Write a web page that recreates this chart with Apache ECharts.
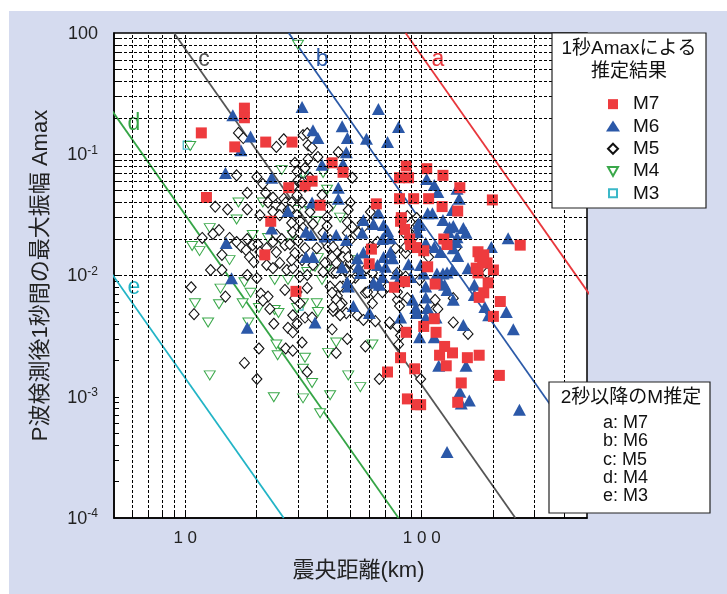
<!doctype html>
<html lang="ja">
<head>
<meta charset="UTF-8" />
<title>P波検測後1秒間の最大振幅</title>
<script src="https://fastly.jsdelivr.net/npm/echarts@6/dist/echarts.min.js"></script>
<style>
  * { margin: 0; padding: 0; }
  html, body { width: 100%; height: 100%; overflow: hidden; background: #fff; }
  #panel { position: absolute; left: 9px; top: 11px; right: 0; bottom: 0; background: #d5dbef; }
  #chart { position: absolute; left: 0; top: 0; width: 727px; height: 594px; }
</style>
</head>
<body>
<div id="panel"></div>
<div id="chart"></div>
<script>
// epicentral distance (km), Amax
const m7 = [[11.7,0.15],[17.8,0.24],[17.8,0.20],[16.2,0.115],[21.9,0.126],[28.3,0.126],[12.3,0.044],[23.0,0.028],[21.7,0.0148],[27.4,0.053],[32.1,0.055],[34.4,0.060],[37.2,0.038],[41.8,0.085],[46.5,0.071],[86,0.080],[105,0.076],[123,0.067],[80.6,0.064],[88,0.064],[145,0.053],[80.6,0.043],[92.5,0.043],[107,0.043],[122,0.037],[199,0.042],[64.3,0.039],[142,0.034],[82,0.030],[81.4,0.028],[84.7,0.024],[89,0.020],[89.8,0.018],[95,0.017],[102,0.016],[124,0.020],[128,0.018],[61.3,0.0165],[60,0.0125],[106,0.0118],[261,0.0178],[173,0.0157],[176,0.0143],[183,0.0148],[189,0.0127],[170,0.0115],[181,0.0129],[201,0.0111],[173,0.0105],[191,0.0087],[183,0.0072],[175,0.0066],[215,0.0061],[201,0.0046],[84.7,0.0089],[114,0.0085],[76.7,0.0080],[113,0.0044],[102,0.0038],[115,0.0034],[86,0.0034],[125,0.0026],[135,0.0023],[119,0.0022],[156,0.0021],[175,0.0022],[127,0.0018],[213,0.0015],[147,0.0013],[142,0.00090],[99,0.00086],[29.4,0.0074],[87,0.00096],[95,0.00086],[71.7,0.0016],[93.4,0.0017],[81.4,0.0021]];

const m6 = [[15.9,0.21],[18.9,0.14],[17.2,0.108],[14.8,0.070],[23.2,0.064],[31.2,0.245],[34.7,0.158],[36.4,0.136],[46.1,0.17],[48.5,0.136],[48,0.104],[37.9,0.082],[46.5,0.083],[44.4,0.053],[44.4,0.043],[34.4,0.040],[27.2,0.034],[32.4,0.023],[34,0.0216],[39,0.021],[43.5,0.0216],[48,0.0196],[23.2,0.0244],[14.9,0.0185],[32.4,0.0142],[34.7,0.0142],[46.1,0.0117],[15.7,0.0095],[65.6,0.236],[58.4,0.134],[71.7,0.126],[79.8,0.168],[65.6,0.033],[56.7,0.0287],[62.5,0.0266],[69,0.0261],[71.7,0.0233],[68.2,0.020],[73.8,0.0203],[56,0.0225],[53.4,0.0139],[54,0.0118],[55,0.0105],[65,0.0122],[70.3,0.0118],[68.2,0.0097],[88,0.0124],[89.8,0.0097],[73.8,0.0156],[75.3,0.0139],[48.5,0.0088],[97,0.027],[96,0.0228],[105,0.0626],[113,0.0558],[117,0.0488],[144,0.043],[141,0.052],[106,0.0326],[111,0.0326],[98,0.0261],[123,0.0287],[131,0.025],[136,0.0256],[150,0.0246],[154,0.0225],[130,0.0228],[141,0.0207],[140,0.0189],[104,0.0185],[120,0.0156],[142,0.0145],[197,0.0172],[232,0.0203],[56.7,0.0155],[69,0.0142],[99,0.0122],[116,0.0104],[123,0.0104],[128,0.0106],[157,0.0115],[120,0.0088],[125,0.0084],[135,0.0111],[167,0.0084],[62.5,0.0087],[66.2,0.0084],[78.2,0.0104],[79.8,0.0092],[91.5,0.0063],[104,0.0066],[106,0.0054],[94.3,0.0054],[136,0.0063],[185,0.0055],[228,0.0050],[244,0.0036],[81.4,0.0045],[95,0.0049],[104,0.0045],[113,0.0031],[98,0.0031],[150,0.0039],[192,0.0047],[51.4,0.0056],[60.1,0.0049],[135,0.0347],[113,0.0172],[136,0.0168],[102,0.0104],[104,0.0081],[128,0.0076],[115,0.0045],[167,0.0069],[118,0.0018],[154,0.0018],[145,0.0011],[159,0.00093],[147,0.00088],[259,0.00078],[128,0.00035],[49,0.0081],[35.4,0.0041],[18.3,0.0037]];

const m5 = [[16.8,0.15],[17.6,0.136],[24.3,0.115],[26.1,0.133],[16.5,0.067],[20.1,0.065],[21.3,0.057],[18.3,0.048],[21.9,0.048],[23.5,0.044],[13.4,0.037],[15.1,0.035],[18.3,0.035],[22.4,0.040],[24.1,0.038],[26.1,0.043],[26.6,0.040],[25.6,0.036],[20.7,0.0315],[23.5,0.0334],[25.1,0.0315],[27.2,0.0347],[13.9,0.0237],[13.1,0.0220],[11.8,0.0204],[16.5,0.0189],[17.3,0.0172],[18.3,0.0200],[19.3,0.0178],[18.1,0.0162],[20.3,0.0181],[20.7,0.0156],[22.1,0.0168],[23.5,0.0189],[24.3,0.0216],[25.6,0.0200],[26.4,0.0178],[24.3,0.0156],[18.7,0.0142],[14.3,0.0148],[22.1,0.0122],[23.5,0.0115],[25.1,0.0127],[26.9,0.0111],[12.8,0.0111],[14.3,0.0111],[20.1,0.0095],[18.3,0.0101],[10.6,0.0080],[14.8,0.0067],[10.9,0.0048],[20.9,0.0071],[22.4,0.0067],[21.3,0.0062],[22.8,0.0053],[23.7,0.0040],[27.2,0.0037],[20.5,0.0025],[17.8,0.0019],[20.1,0.0014],[26.6,0.0025],[26.4,0.0076],[29.7,0.0073],[32.8,0.0079],[30.6,0.0059],[28.5,0.0047],[32.1,0.0045],[29.7,0.0040],[28.5,0.0034],[31.2,0.0028],[28.5,0.0024],[42.2,0.0051],[46.1,0.0059],[44,0.0068],[41.8,0.0036],[48.5,0.0030],[43.5,0.0023],[57.8,0.0026],[53.4,0.0047],[57.8,0.0072],[62.5,0.0073],[63.7,0.0042],[71.7,0.0081],[73.8,0.0040],[79,0.0038],[79.8,0.0027],[66.2,0.0014],[41,0.0081],[46.5,0.0081],[34.4,0.0045],[32.8,0.0016],[29.1,0.0065],[79,0.0063],[87,0.0065],[79,0.0073],[113,0.0052],[136,0.0041],[157,0.0033],[136,0.0065],[99,0.0014],[31.5,0.144],[33.1,0.119],[34.4,0.113],[36.4,0.095],[33.1,0.091],[29.1,0.085],[29.7,0.072],[32.1,0.077],[33.7,0.064],[30,0.061],[28.5,0.054],[32.1,0.054],[29.7,0.046],[31.2,0.040],[28.2,0.040],[27.7,0.0347],[29.7,0.0315],[33.7,0.0334],[30.6,0.0281],[28.2,0.0271],[31.5,0.0246],[28.5,0.0228],[30,0.0193],[27.7,0.0181],[32.1,0.0168],[29.1,0.0153],[31.2,0.0134],[28.5,0.0115],[30.6,0.0098],[32.8,0.0101],[44.4,0.104],[50.9,0.064],[49.9,0.040],[48.9,0.0347],[48.5,0.0276],[50.9,0.0251],[48.5,0.0225],[49.9,0.0196],[46.1,0.0142],[44.4,0.0127],[47.5,0.0162],[60.7,0.0334],[60.7,0.0271],[85.5,0.0153],[85.5,0.0098],[37.9,0.0461],[40.2,0.036],[39.8,0.0303],[38.3,0.0225],[41,0.0196],[40.2,0.0172],[36,0.0168],[42.2,0.0153],[41,0.0134],[43.5,0.0127],[39,0.0127],[38.3,0.0107],[42.2,0.0105],[47.5,0.0111],[52.4,0.0118],[52.4,0.0096],[49.9,0.0092],[56,0.0271],[95.2,0.0298],[87,0.0309],[96,0.0261],[83.8,0.0228],[89,0.0225],[94.3,0.0216],[141,0.0172],[105,0.0168],[107,0.0142],[189,0.0105],[79,0.0105],[98,0.0092],[83.8,0.0088],[114,0.0063],[117,0.0053],[98,0.0052],[80.6,0.0056],[73.1,0.0041],[81.4,0.0032],[43.5,0.0063],[45.2,0.0057],[48,0.0049],[56.7,0.0043],[61.9,0.0059],[68.2,0.0073],[59,0.0073],[63.7,0.0088],[55.5,0.0105],[58.4,0.0115],[61.9,0.0105],[43.5,0.0156],[46.5,0.0142],[49.9,0.0127],[42.2,0.0172],[41.8,0.0142],[43.5,0.0105],[45.2,0.0081],[41.8,0.0072],[42.2,0.0055],[45.2,0.0047],[56.7,0.0251],[54,0.0225],[60.7,0.0172],[65,0.0189],[85.5,0.0172],[77.5,0.0168],[32.8,0.149],[31.2,0.058],[34.7,0.0266],[39.8,0.0256],[48.9,0.0142],[34.7,0.0122],[28.2,0.0134],[30.6,0.0225],[19.5,0.0129],[15.4,0.0204]];

const m4 = [[30,0.80],[10.5,0.117],[25.6,0.074],[16.8,0.040],[21.3,0.040],[16.5,0.029],[12.7,0.0246],[10.7,0.0175],[11.5,0.0159],[15.4,0.0134],[19.3,0.0216],[22.4,0.0204],[25.8,0.0185],[23.9,0.0092],[17.8,0.0088],[27.2,0.0092],[14.1,0.0078],[13.9,0.0058],[11,0.0059],[12.5,0.0041],[17.5,0.0059],[18.5,0.0041],[18.9,0.0072],[20.5,0.0054],[12.7,0.0015],[23.7,0.00099],[24.3,0.0027],[24.6,0.0022],[23.9,0.0052],[24.8,0.0049],[31.5,0.0059],[36,0.0059],[36.4,0.0050],[43.5,0.0028],[40.2,0.0023],[32.1,0.0021],[31.5,0.0017],[34.4,0.0013],[31.5,0.00097],[41,0.00103],[37.2,0.00073],[48.9,0.0015],[55,0.0012],[61.9,0.0027],[29.7,0.0054],[31.5,0.069],[38.3,0.070],[39.8,0.051],[41.8,0.037],[33.7,0.034],[45.2,0.030],[35.7,0.028],[28.5,0.0216],[36.4,0.0139],[40.2,0.0118],[35.4,0.0118],[32.8,0.0107],[37.9,0.0092],[49.9,0.0134],[51.4,0.0122],[29.7,0.0347]];

const m3 = [[10.2,0.119],[31.8,0.070],[30.3,0.0056]];

// magnitude lines from the 2 s estimate: distance where Amax = 1 and Amax = 1e-4
const lineNames = ['a', 'b', 'c', 'd', 'e'];
const lineTopKm = [85.5, 27.4, 8.97, 2.88, 0.94];
const lineBottomKm = [2370, 760, 249, 79.8, 26.1];
const lineColors = ['#e8383d', '#2c5aa8', '#555555', '#35a546', '#22b4c6'];
const lineLabelAt = [[117, 0.6], [37.9, 0.6], [12.0, 0.6], [6.07, 0.18], [6.07, 0.0079]];

const xLabelValues = [10, 100];
const yLabelValues = [0.0001, 0.001, 0.01, 0.1, 1];

const FONT = "'Liberation Sans', Arial, 'Noto Sans CJK JP', sans-serif";

const xGrid = [];
[1, 10, 100].forEach(function (d) {
  for (let k = 1; k <= 9; k++) { const v = k * d; if (v > 5 && v < 500) xGrid.push(v); }
});
const yGrid = [];
[-4, -3, -2, -1].forEach(function (e) {
  for (let k = 1; k <= 9; k++) { const v = k * Math.pow(10, e); if (v > 0.00011) yGrid.push(v); }
});

// legend icons drawn inside a 14x14 box so that the shapes keep their own size
const icons = {
  M7: 'path://M0,0M14,14M2,2L12,2L12,12L2,12Z',
  M6: 'path://M0,0M14,14M0,12L7,1L14,12Z',
  M5: 'path://M0,0M14,14M7,2L12,7L7,12L2,7Z',
  M4: 'path://M0,0M14,14M2,3L12,3L7,12Z',
  M3: 'path://M0,0M14,14M3,3L11,3L11,11L3,11Z'
};

const chart = echarts.init(document.getElementById('chart'));

const lineSeries = lineNames.map(function (n, i) {
  return {
    type: 'line',
    name: n,
    data: [[lineTopKm[i], 1], [lineBottomKm[i], 0.0001]],
    showSymbol: false,
    silent: true,
    clip: true,
    z: 2,
    lineStyle: { color: lineColors[i], width: 1.8 }
  };
});

const option = {
  backgroundColor: 'transparent',
  animation: false,
  textStyle: { fontFamily: FONT },
  grid: {
    left: 114, top: 33, right: 140, bottom: 76,
    show: true, backgroundColor: '#fff', borderColor: '#000', borderWidth: 1.5
  },
  xAxis: {
    type: 'log', logBase: 10, min: 5, max: 500,
    name: '震央距離(km)', nameLocation: 'middle', nameGap: 42,
    nameTextStyle: { fontSize: 22, color: '#222', padding: [0, 0, 0, 16] },
    axisLine: { lineStyle: { color: '#000', width: 1.5 } },
    axisTick: { inside: true, length: 5, customValues: xGrid, lineStyle: { color: '#000' } },
    axisLabel: {
      customValues: xLabelValues, fontSize: 17, color: '#222', margin: 12,
      formatter: function (v) { return String(Math.round(v)).split('').join(' '); }
    },
    splitLine: { show: false }
  },
  yAxis: {
    type: 'log', logBase: 10, min: 0.0001, max: 1,
    name: 'P波検測後1秒間の最大振幅 Amax', nameLocation: 'middle', nameGap: 62,
    nameTextStyle: { fontSize: 22, color: '#222' },
    axisLine: { lineStyle: { color: '#000', width: 1.5 } },
    axisTick: { inside: true, length: 5, customValues: yGrid, lineStyle: { color: '#000' } },
    axisLabel: {
      customValues: yLabelValues, color: '#222', margin: 16,
      formatter: function (v) {
        const e = Math.round(Math.log10(v));
        if (e === 0) return '{b|100}';
        return '{b|10}{s|' + e + '}';
      },
      rich: {
        b: { fontSize: 18, color: '#222', lineHeight: 20, verticalAlign: 'bottom' },
        s: { fontSize: 12, color: '#222', lineHeight: 20, verticalAlign: 'top', padding: [0, 0, 8, 0] }
      }
    },
    splitLine: { show: false }
  },
  legend: {
    data: ['M7', 'M6', 'M5', 'M4', 'M3'].map(function (n) { return { name: n, icon: icons[n] }; }),
    orient: 'vertical',
    left: 600, top: 88,
    itemWidth: 14, itemHeight: 14, itemGap: 0,
    z: 20,
    textStyle: { fontSize: 19, color: '#111', lineHeight: 22.3, padding: [0, 0, 0, 8] }
  },
  graphic: [
    { type: 'rect', z: 10, shape: { x: 552, y: 33, width: 154, height: 175 },
      style: { fill: '#fff', stroke: '#222', lineWidth: 1.2 } },
    { type: 'text', z: 11, x: 629, y: 37,
      style: { text: '1秒Amaxによる\n推定結果', fontSize: 19, fontFamily: FONT, fill: '#111',
        align: 'center', verticalAlign: 'top', lineHeight: 23 } },
    { type: 'rect', z: 10, shape: { x: 549, y: 382, width: 161, height: 131 },
      style: { fill: '#fff', stroke: '#222', lineWidth: 1.2 } },
    { type: 'text', z: 11, x: 631, y: 388,
      style: { text: '2秒以降のM推定', fontSize: 19, fontFamily: FONT, fill: '#111',
        align: 'center', verticalAlign: 'top' } },
    { type: 'text', z: 11, x: 603, y: 414,
      style: { text: 'a: M7\nb: M6\nc: M5\nd: M4\ne: M3', fontSize: 18, fontFamily: FONT, fill: '#111',
        align: 'left', verticalAlign: 'top', lineHeight: 18.3 } }
  ],
  series: [
    {
      type: 'line', name: 'grid', data: [], silent: true, z: 1,
      markLine: {
        silent: true, symbol: 'none', animation: false,
        label: { show: false },
        lineStyle: { color: '#000', width: 1, type: [3, 2] },
        data: xGrid.map(function (v) { return { xAxis: v }; })
          .concat(yGrid.map(function (v) { return { yAxis: v }; }))
      }
    }
  ].concat(lineSeries).concat([
    {
      type: 'scatter', name: 'M3', data: m3, z: 3,
      symbol: 'rect', symbolSize: 8,
      itemStyle: { color: '#fff', borderColor: '#3bb8c8', borderWidth: 1.2, opacity: 1 }
    },
    {
      type: 'scatter', name: 'M4', data: m4, z: 3,
      symbol: 'triangle', symbolRotate: 180, symbolSize: [11, 9],
      itemStyle: { color: '#fff', borderColor: '#3aa84a', borderWidth: 1, opacity: 1 }
    },
    {
      type: 'scatter', name: 'M5', data: m5, z: 3,
      symbol: 'diamond', symbolSize: [10, 11],
      itemStyle: { color: '#fff', borderColor: '#111', borderWidth: 1.1, opacity: 1 }
    },
    {
      type: 'scatter', name: 'M6', data: m6, z: 3,
      symbol: 'triangle', symbolSize: [13, 12],
      itemStyle: { color: '#2b58a8', opacity: 1 }
    },
    {
      type: 'scatter', name: 'M7', data: m7, z: 3,
      symbol: 'rect', symbolSize: 11,
      itemStyle: { color: '#ee3b3e', opacity: 1 }
    },
    {
      type: 'scatter', name: 'labels', silent: true, z: 4,
      symbolSize: 1,
      itemStyle: { opacity: 1, color: 'rgba(0,0,0,0)' },
      data: lineLabelAt.map(function (p, i) {
        return { value: p, name: lineNames[i] };
      }),
      label: {
        show: true, position: 'inside',
        fontSize: 23, fontFamily: 'Liberation Sans, Arial, sans-serif',
        formatter: function (p) { return '{t' + p.dataIndex + '|' + p.name + '}'; },
        rich: {
          t0: { fontSize: 23, color: lineColors[0] },
          t1: { fontSize: 23, color: lineColors[1] },
          t2: { fontSize: 23, color: lineColors[2] },
          t3: { fontSize: 23, color: lineColors[3] },
          t4: { fontSize: 23, color: lineColors[4] }
        }
      }
    }
  ])
};

chart.setOption(option);
</script>
</body>
</html>
